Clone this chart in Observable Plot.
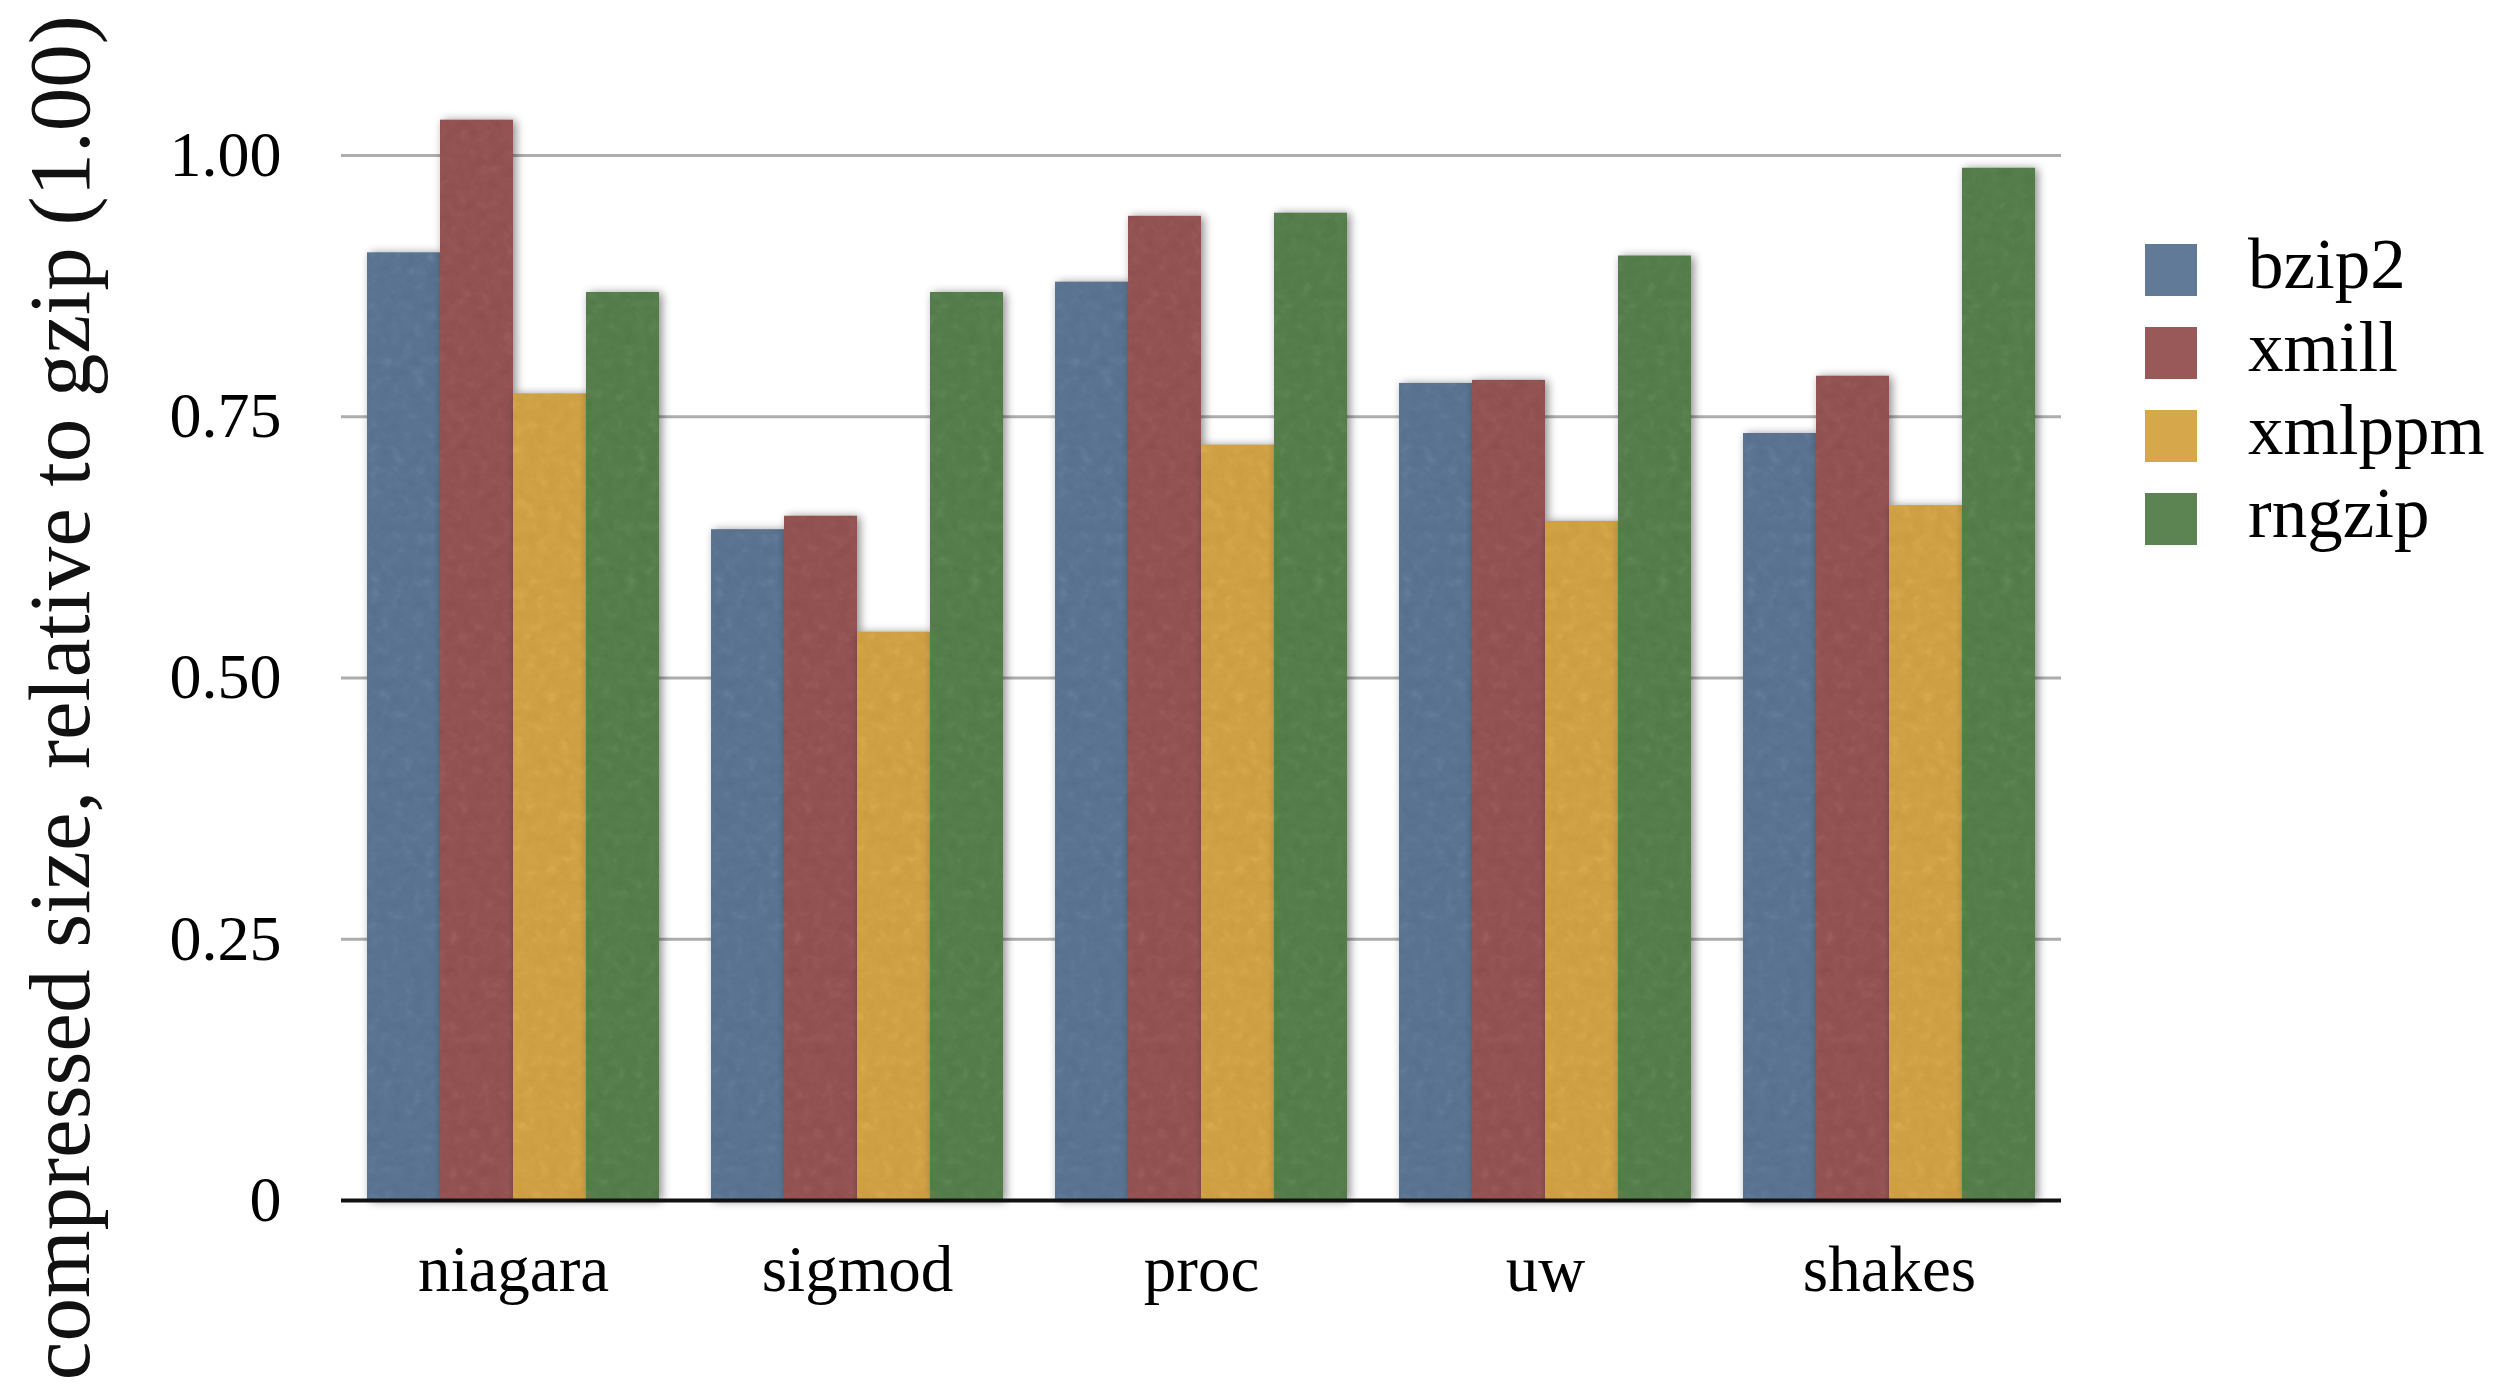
<!DOCTYPE html>
<html>
<head>
<meta charset="utf-8">
<script src="https://cdn.jsdelivr.net/npm/d3@7"></script>
<script src="https://cdn.jsdelivr.net/npm/@observablehq/plot@0.6"></script>
<style>
  html, body { margin: 0; padding: 0; background: #fff; }
  #root { position: relative; width: 2520px; height: 1392px; background: #fff; overflow: hidden; font-family: "Liberation Serif", serif; }
  #chart { position: absolute; left: 0; top: 0; }
  #legend { position: absolute; left: 2145px; top: 228px; }
  .row { display: flex; align-items: center; height: 83px; }
  .sw { width: 52px; height: 52px; margin-right: 51px; }
  .lab { font-size: 71px; color: #000; position: relative; top: -5px; line-height: 83px; }
</style>
</head>
<body>
<svg width="0" height="0" style="position:absolute">
  <defs>
    <filter id="tex" x="-25%" y="-6%" width="150%" height="112%" color-interpolation-filters="sRGB">
      <feTurbulence type="fractalNoise" baseFrequency="0.09" numOctaves="3" seed="4" result="n"/>
      <feColorMatrix in="n" type="saturate" values="0" result="g"/>
      <feComposite in="g" in2="SourceGraphic" operator="arithmetic" k1="0" k2="0.12" k3="1" k4="-0.06" result="t"/>
      <feComposite in="t" in2="SourceAlpha" operator="in" result="tex"/>
      <feGaussianBlur in="SourceAlpha" stdDeviation="5" result="b"/>
      <feOffset in="b" dx="3" dy="1" result="o"/>
      <feComponentTransfer in="o" result="sh"><feFuncA type="linear" slope="0.45"/></feComponentTransfer>
      <feMerge><feMergeNode in="sh"/><feMergeNode in="tex"/></feMerge>
    </filter>
  </defs>
</svg>
<div id="root">
  <div id="chart"></div>
  <div id="legend"></div>
</div>
<script>
const categories = ["niagara", "sigmod", "proc", "uw", "shakes"];
const series = ["bzip2", "xmill", "xmlppm", "rngzip"];
const bzip2  = [0.907, 0.642, 0.879, 0.782, 0.734];
const xmill  = [1.034, 0.655, 0.942, 0.785, 0.789];
const xmlppm = [0.772, 0.544, 0.723, 0.650, 0.665];
const rngzip = [0.869, 0.869, 0.945, 0.904, 0.988];
const colors = ["#607a97", "#9a5959", "#d7a74b", "#5c8453"];
const yTicks = [0, 0.25, 0.5, 0.75, 1];
const yTickLabels = ["0", "0.25", "0.50", "0.75", "1.00"];
const yTitle = "compressed size, relative to gzip (1.00)";

const valuesBySeries = {bzip2, xmill, xmlppm, rngzip};
const data = [];
categories.forEach((c, i) => series.forEach(s => data.push({category: c, series: s, value: valuesBySeries[s][i]})));

const plot = Plot.plot({
  width: 2100,
  height: 1392,
  marginLeft: 341,
  marginRight: 38,
  marginTop: 50.5,
  marginBottom: 192,
  style: {fontFamily: "Liberation Serif", background: "transparent", overflow: "visible", color: "#000"},
  fx: {domain: categories, paddingInner: 0.145, paddingOuter: 0.0725, label: null},
  x: {domain: series, padding: 0, axis: null},
  y: {domain: [0, 1.1], axis: null},
  color: {domain: series, range: colors},
  marks: [
    Plot.ruleY(yTicks.filter(d => d > 0), {stroke: "#adadad", strokeWidth: 3, insetLeft: -25, insetRight: -25}),
    Plot.barY(data, {fx: "category", x: "series", y: "value", fill: "series"}),
    Plot.ruleY([0], {stroke: "#111", strokeWidth: 4, insetLeft: -25, insetRight: -25}),
    Plot.axisY({ticks: yTicks, tickFormat: d => yTickLabels[yTicks.indexOf(d)], tickSize: 0, tickPadding: 85, fontSize: 64, label: null}),
    Plot.axisFx({anchor: "bottom", tickSize: 0, tickPadding: 44, fontSize: 65, label: null}),
    Plot.text([yTitle], {text: d => d, frameAnchor: "left", rotate: -90, textAnchor: "middle", lineAnchor: "bottom", dx: -278, dy: 72, fontSize: 87, fill: "#111", facetAnchor: "left"})
  ]
});
document.getElementById("chart").appendChild(plot);
plot.querySelectorAll('g[aria-label="bar"] rect').forEach(r => r.setAttribute("filter", "url(#tex)"));

const color = plot.scale("color");
const legend = document.getElementById("legend");
series.forEach(s => {
  const row = document.createElement("div");
  row.className = "row";
  const sw = document.createElement("div");
  sw.className = "sw";
  sw.style.background = color.apply(s);
  const lab = document.createElement("div");
  lab.className = "lab";
  lab.textContent = s;
  row.appendChild(sw);
  row.appendChild(lab);
  legend.appendChild(row);
});
</script>
</body>
</html>
